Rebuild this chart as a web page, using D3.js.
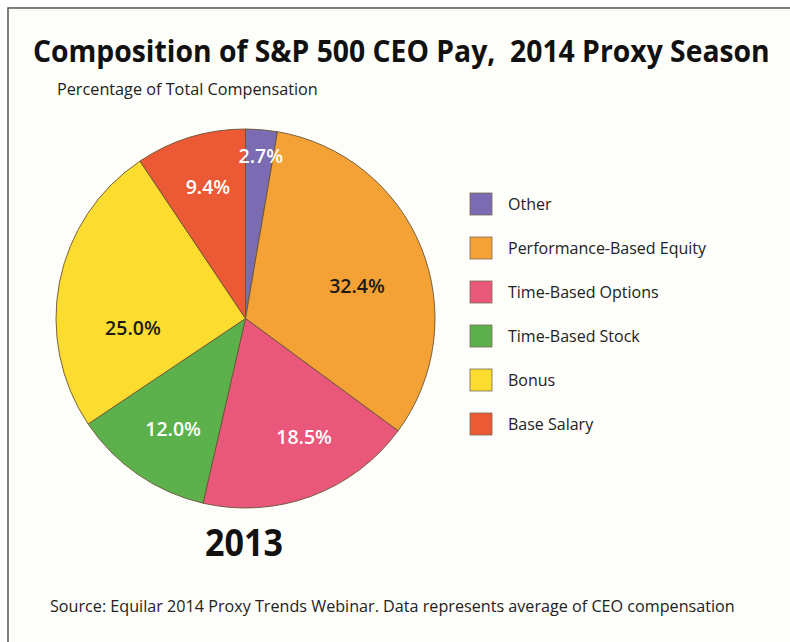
<!DOCTYPE html>
<html>
<head>
<meta charset="utf-8">
<script src="https://cdn.jsdelivr.net/npm/d3@7"></script>
<style>
  html, body { margin: 0; padding: 0; background: #ffffff; }
  svg { display: block; }
</style>
</head>
<body>
<svg id="chart" width="790" height="642"></svg>
<script>
// ---- data ----
const categories = ["Other", "Performance-Based Equity", "Time-Based Options", "Time-Based Stock", "Bonus", "Base Salary"];
const values = [2.7, 32.4, 18.5, 12.0, 25.0, 9.4];
const valueLabels = ["2.7%", "32.4%", "18.5%", "12.0%", "25.0%", "9.4%"];
const colors = ["#7a6bb2", "#f4a235", "#e9577b", "#5cb14c", "#fddc30", "#eb5935"];
const labelColors = ["#ffffff", "#1a1a1a", "#ffffff", "#ffffff", "#1a1a1a", "#ffffff"];
const titleText = "Composition of S&P 500 CEO Pay,  2014 Proxy Season";
const subtitleText = "Percentage of Total Compensation";
const yearText = "2013";
const sourceText = "Source: Equilar 2014 Proxy Trends Webinar. Data represents average of CEO compensation";

// ---- layout (label placement tweaks: radius, angle shift in degrees) ----
const labelRadius = [163, 116, 132, 132, 113, 137];
const labelAngleShift = [0.5, 6, -6, -1.3, -16, 1];

const svg = d3.select("#chart");
const W = 790, H = 642;

// horizontally fit a text to a target width by scaling around its x anchor
function fitText(sel, x, y, width) {
  const w = sel.node().getComputedTextLength();
  const k = width / w;
  sel.attr("x", 0).attr("y", 0)
    .attr("transform", `translate(${x},${y}) scale(${k},1)`);
  return sel;
}

// frame
svg.append("rect").attr("x", 8).attr("y", 8).attr("width", W + 10).attr("height", H + 10)
  .attr("fill", "#fdfdfa").attr("stroke", "#555").attr("stroke-width", 1.5);

// title
const title = svg.append("text")
  .attr("font-family", "Open Sans").attr("font-weight", 700).attr("font-size", 30)
  .attr("fill", "#111").style("white-space", "pre").text(titleText);
fitText(title, 33, 62, 737);

const sub = svg.append("text")
  .attr("font-family", "Open Sans").attr("font-size", 15.5)
  .attr("fill", "#222").text(subtitleText);
fitText(sub, 57, 95, 261);

// pie
const cx = 245.5, cy = 318.5, R = 189.5;
const pie = d3.pie().sort(null).value(d => d)(values);
const arc = d3.arc().innerRadius(0).outerRadius(R);
const g = svg.append("g").attr("transform", `translate(${cx},${cy})`);

g.selectAll("path.slice").data(pie).join("path")
  .attr("class", "slice")
  .attr("d", arc)
  .attr("fill", (d, i) => colors[i])
  .attr("stroke", "#6a5535").attr("stroke-width", 0.9);

g.selectAll("text.val").data(pie).join("text")
  .attr("class", "val")
  .attr("transform", (d, i) => {
    const a = (d.startAngle + d.endAngle) / 2 + labelAngleShift[i] * Math.PI / 180;
    const r = labelRadius[i];
    return `translate(${r * Math.sin(a)},${-r * Math.cos(a)})`;
  })
  .attr("text-anchor", "middle").attr("dy", "0.35em")
  .attr("font-family", "Open Sans").attr("font-weight", 600).attr("font-size", 19.5)
  .attr("fill", (d, i) => labelColors[i])
  .text((d, i) => valueLabels[i]);

// year label
const year = svg.append("text")
  .attr("font-family", "Open Sans").attr("font-weight", 700).attr("font-size", 38)
  .attr("fill", "#111").text(yearText);
fitText(year, 205, 556, 78);

// legend
const legendY = d3.scalePoint().domain(categories).range([204, 424]);
const items = svg.append("g").selectAll("g.item").data(categories).join("g")
  .attr("class", "item")
  .attr("transform", d => `translate(470,${legendY(d)})`);
items.append("rect").attr("x", 0).attr("y", -11).attr("width", 22).attr("height", 22)
  .attr("fill", (d, i) => colors[i]).attr("stroke", "#7a6a55").attr("stroke-width", 0.8);
items.append("text").attr("x", 38).attr("y", 0).attr("dy", "0.35em")
  .attr("font-family", "Open Sans").attr("font-size", 16).attr("fill", "#222")
  .text(d => d);

// source
const src = svg.append("text")
  .attr("font-family", "Open Sans").attr("font-size", 15.5)
  .attr("fill", "#222").text(sourceText);
fitText(src, 50, 612, 685);
</script>
</body>
</html>
